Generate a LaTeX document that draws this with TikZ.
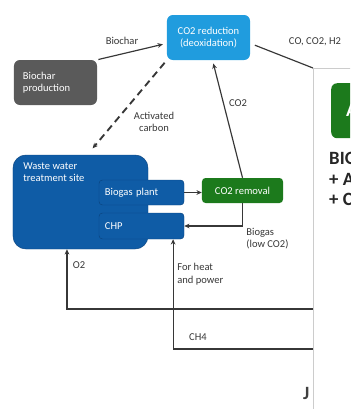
\documentclass[tikz,border=0pt]{standalone}
\usepackage{fontspec}
\setmainfont{Carlito}
\usetikzlibrary{arrows.meta,calc}

\definecolor{skyblue}{RGB}{32,156,222}
\definecolor{siteblue}{RGB}{15,92,166}
\definecolor{siteedge}{RGB}{10,68,128}
\definecolor{leafgreen}{RGB}{28,122,28}
\definecolor{charcoal}{RGB}{90,90,90}
\definecolor{linegray}{RGB}{55,55,55}

\begin{document}
\begin{tikzpicture}[x=0.03cm, y=-0.03cm, font=\fontsize{9}{10.5}\selectfont,
                    >={Stealth[length=4.5pt,width=4pt]},
                    flow/.style={draw=linegray, line width=1pt},
                    box/.style={rectangle, rounded corners=5pt, text=white, inner sep=2pt},
                    inbox/.style={box, rounded corners=3pt, fill=siteblue, draw=siteedge,
                                  minimum width=2.55cm, inner xsep=0.18cm, text width=2.19cm, align=left},
                    lbl/.style={text=linegray, inner sep=1pt}]

	\useasboundingbox (0,0) rectangle (350,409);
	\clip (0,0) rectangle (350,409);

	% boxes
	\node[box, fill=skyblue, minimum width=2.49cm, minimum height=1.35cm, align=center] (red) at (208.5,37.5) {CO2 reduction\\(deoxidation)};
	\node[box, fill=charcoal, minimum width=2.49cm, minimum height=1.35cm, inner xsep=0.27cm, text width=1.95cm, align=left] (bcp) at (55.5,82.5) {Biochar\\production};
	\node[box, rounded corners=11pt, fill=siteblue, draw=siteedge, minimum width=4.05cm, minimum height=2.82cm] (wwt) at (80.5,202) {};
	\node[anchor=north west, text=white, align=left, inner sep=1pt] (wwtxt) at (22,161) {Waste water\\treatment site};
	\node[inbox, minimum height=0.75cm] (bgp) at (141.5,192.5) {Biogas plant};
	\node[inbox, minimum height=0.78cm] (chp) at (141.5,226) {CHP};
	\node[box, rounded corners=3pt, fill=leafgreen, minimum width=2.43cm, minimum height=0.75cm] (rem) at (242.5,190.5) {CO2 removal};

	\coordinate (pnl) at (313,68);
	\coordinate (o2) at (313,309);
	\coordinate (ch4) at (313,349);

	% connectors
	\draw[flow,->,shorten <=1pt,shorten >=1.2mm] (bcp.north east) -- (red.188);
	\draw[flow,->,line width=1.6pt,dash pattern=on 6pt off 4pt,shorten <=1mm,shorten >=2.5mm]
		(red.south west) -- ($(wwt.north west)!0.55!(wwt.north east)$);
	\draw[flow,->,shorten >=1mm] (rem.north) -- ($(red.south)+(4,0)$);
	\draw[flow,->] (bgp.east) -- (bgp.east -| rem.west);
	\draw[flow,->] (rem.south) |- (chp.east);
	\draw[flow,->] (o2) -| ($(wwt.south west)!0.4!(wwt.south east)$);
	\draw[flow,->] (ch4) -| ($(chp.south west)!0.87!(chp.south east)$);
	\draw[flow,shorten <=1.5mm] (red.352) -- (pnl);

	% labels
	\node[lbl] (l1) at (122,41) {Biochar};
	\node[lbl, align=center] (l2) at (154,122) {Activated\\carbon};
	\node[lbl] (l3) at (238,103) {CO2};
	\node[lbl] (l4) at (315,42) {CO, CO2, H2};
	\node[lbl, anchor=north west, align=left] (l5) at (245,227) {Biogas\\(low CO2)};
	\node[lbl, anchor=north west, align=left] (l6) at (176,262) {For heat\\and power};
	\node[lbl] (l7) at (79,265) {O2};
	\node[lbl] (l8) at (198,337) {CH4};
	\node[anchor=base west, inner sep=0pt, text=black!75, font=\fontsize{16}{18}\selectfont\bfseries] (jj) at (303,399) {J};

	% right panel
	\fill[white] (pnl) rectangle (360,415);
	\draw[gray!40] (360,68) -- (pnl) -- (313,415);
	\node[box, fill=leafgreen, anchor=north west, minimum width=1.2cm, minimum height=1.65cm,
	      inner xsep=0.45cm, text width=1cm, align=left, font=\fontsize{16}{18}\selectfont\bfseries] (agb) at (331,83) {A};
	\node[anchor=north west, align=left, inner sep=0pt, text=black!85,
	      font=\fontsize{16}{17.5}\selectfont\bfseries] (bio) at (329,152) {BIO\\+ A\\+ C};

\end{tikzpicture}
\end{document}
